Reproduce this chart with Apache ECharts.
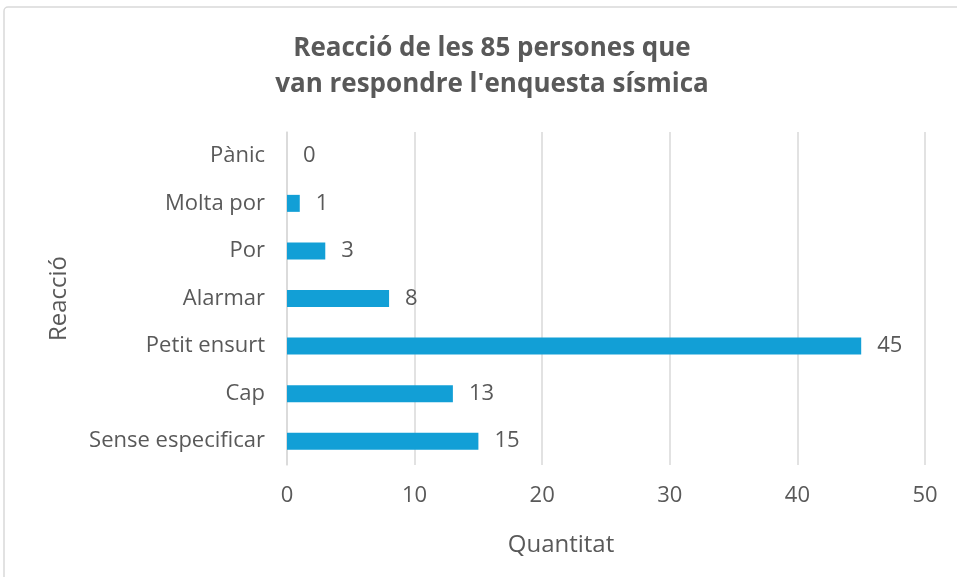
<!DOCTYPE html>
<html>
<head>
<meta charset="utf-8">
<script src="https://cdn.jsdelivr.net/npm/echarts@6/dist/echarts.min.js"></script>
<style>
  html, body { margin: 0; padding: 0; background: #fff; }
  #chart { width: 957px; height: 577px; }
</style>
</head>
<body>
<div id="chart"></div>
<script>
// categories from bottom to top (as ECharts draws category y axis)
const categories = ['Sense especificar', 'Cap', 'Petit ensurt', 'Alarmar', 'Por', 'Molta por', 'Pànic'];
const values = [15, 13, 45, 8, 3, 1, 0];
const xTicks = [0, 10, 20, 30, 40, 50];

const textColor = '#595959';
const font = 'Open Sans';

const chart = echarts.init(document.getElementById('chart'));
chart.setOption({
    backgroundColor: '#fff',
    animation: false,
    title: {
        text: "Reacció de les 85 persones que\nvan respondre l'enquesta sísmica",
        left: 487,
        textAlign: 'center',
        top: 26,
        textStyle: {
            fontFamily: font,
            fontSize: 26,
            fontWeight: 'bold',
            color: textColor,
            lineHeight: 36
        }
    },
    graphic: [{
        type: 'rect',
        shape: { x: 4, y: 7, width: 960, height: 580, r: 4 },
        style: { fill: 'none', stroke: '#d9d9d9', lineWidth: 1.5 },
        silent: true
    }],
    grid: {
        left: 287,
        right: 32,
        top: 132,
        bottom: 112
    },
    xAxis: {
        type: 'value',
        min: xTicks[0],
        max: xTicks[xTicks.length - 1],
        interval: 10,
        name: 'Quantitat',
        nameLocation: 'middle',
        nameGap: 68,
        nameTextStyle: {
            fontFamily: font,
            fontSize: 24,
            color: textColor,
            padding: [0, 90, 0, 0]
        },
        axisLine: { show: false },
        axisTick: { show: false },
        axisLabel: {
            fontFamily: font,
            fontSize: 22,
            color: textColor,
            margin: 20
        },
        splitLine: { lineStyle: { color: '#d9d9d9', width: 1.5 } }
    },
    yAxis: {
        type: 'category',
        data: categories,
        name: 'Reacció',
        nameLocation: 'middle',
        nameGap: 216,
        nameRotate: 90,
        nameTextStyle: {
            fontFamily: font,
            fontSize: 24,
            color: textColor
        },
        axisLine: { show: true, lineStyle: { color: '#d9d9d9', width: 1.5 } },
        axisTick: { show: false },
        axisLabel: {
            fontFamily: font,
            fontSize: 22,
            color: textColor,
            margin: 22
        }
    },
    series: [{
        type: 'bar',
        data: values,
        barWidth: 17,
        itemStyle: { color: '#129fd6' },
        label: {
            show: true,
            position: 'right',
            distance: 16,
            fontFamily: font,
            fontSize: 22,
            color: textColor
        }
    }]
});
</script>
</body>
</html>
